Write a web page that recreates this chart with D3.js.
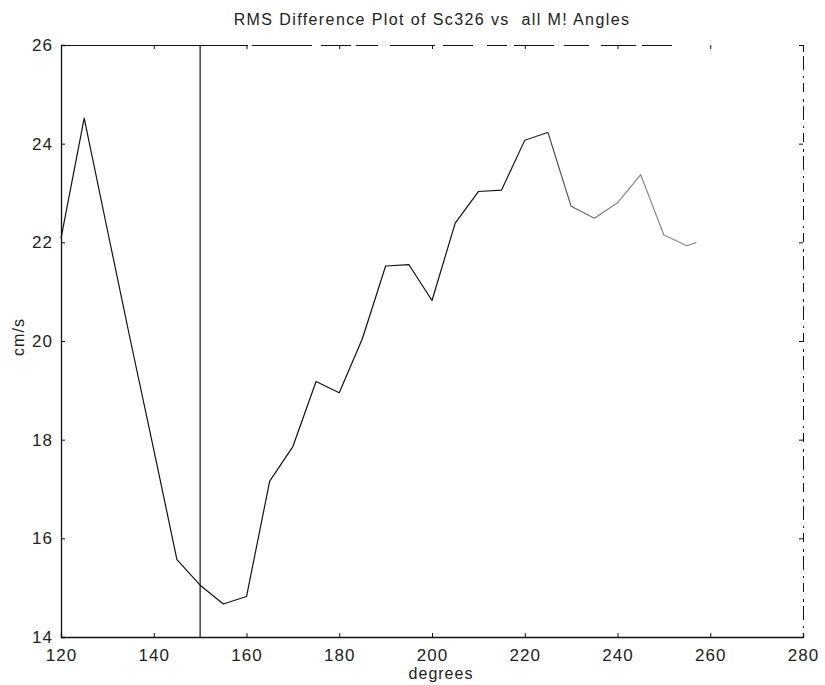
<!doctype html>
<html lang="en">
<head>
  <meta charset="utf-8" />
  <title>RMS Difference Plot</title>
  <script src="https://d3js.org/d3.v7.min.js"></script>
  <style>
    body { margin: 0; background: #fff; }
    svg { font-family: "Liberation Sans", Arial, sans-serif; }
    .tick text { font-size: 17px; letter-spacing: 1px; fill: #222; }
    .axis path, .axis line { stroke: #111; }
  </style>
</head>
<body>
<script type="text/javascript">

  // data
  var degrees = [120, 125, 130, 135, 140, 145, 150, 155, 160, 165, 170, 175, 180,
                 185, 190, 195, 200, 205, 210, 215, 220, 225, 230, 235, 240, 245,
                 250, 255, 257];
  var rms = [22.08, 24.52, 22.25, 20.0, 17.8, 15.57, 15.05, 14.67, 14.82, 17.16, 17.86,
             19.18, 18.95, 20.05, 21.52, 21.55, 20.82, 22.39, 23.03, 23.06, 24.07,
             24.23, 22.73, 22.49, 22.8, 23.37, 22.15, 21.93, 22.0];
  var xTicks = [120, 140, 160, 180, 200, 220, 240, 260, 280];
  var yTicks = [14, 16, 18, 20, 22, 24, 26];
  var markAt = 150;   // vertical marker

  var title = "RMS Difference Plot of Sc326 vs\u00a0\u00a0all M! Angles";

  var width = 825, height = 685;
  var margin = { top: 45, right: 22, bottom: 48, left: 61 };

  var x = d3.scaleLinear()
    .domain([120, 280])
    .range([margin.left, width - margin.right]);

  var y = d3.scaleLinear()
    .domain([14, 26])
    .range([height - margin.bottom, margin.top]);

  var svg = d3.select("body").append("svg")
    .attr("width", width)
    .attr("height", height);

  // the scan fades towards the right: ink goes from black to grey
  var grad = svg.append("defs").append("linearGradient")
    .attr("id", "fade")
    .attr("gradientUnits", "userSpaceOnUse")
    .attr("x1", x(215)).attr("x2", x(240))
    .attr("y1", 0).attr("y2", 0);
  grad.append("stop").attr("offset", 0).attr("stop-color", "#111");
  grad.append("stop").attr("offset", 1).attr("stop-color", "#8a8a8a");

  // top and right edges look faded / broken in the scan
  svg.append("g")
    .attr("class", "axis")
    .attr("transform", "translate(0," + margin.top + ")")
    .call(d3.axisTop(x).tickValues(xTicks).tickSize(-4).tickFormat(""))
    .call(function(g) {
      g.select(".domain").attr("stroke", "#555").attr("stroke-width", 1)
        .attr("stroke-dasharray", "190,4,60,9,30,5,22,12,45,8,30,14,20,7,40,10,25,12,35,6,30");
      g.selectAll(".tick line").attr("stroke", "#888");
    });

  svg.append("g")
    .attr("class", "axis")
    .attr("transform", "translate(" + (width - margin.right) + ",0)")
    .call(d3.axisRight(y).tickValues(yTicks).tickSize(-4).tickFormat(""))
    .call(function(g) {
      g.select(".domain").attr("stroke", "#999").attr("stroke-width", 1)
        .attr("stroke-dasharray", "9,5,2,6,14,4,3,7");
      g.selectAll(".tick line").attr("stroke", "#777");
    });

  var xAxis = d3.axisBottom(x).tickValues(xTicks).tickSize(-4).tickPadding(8);
  var yAxis = d3.axisLeft(y).tickValues(yTicks).tickSize(-4).tickPadding(8);

  svg.append("g")
    .attr("class", "x axis")
    .attr("transform", "translate(0," + (height - margin.bottom) + ")")
    .call(xAxis)
    .call(function(g) {
      g.selectAll(".tick text").attr("dy", "0.95em");
      g.select(".domain").attr("stroke-width", 1.3);
    });

  svg.append("g")
    .attr("class", "y axis")
    .attr("transform", "translate(" + margin.left + ",0)")
    .call(yAxis)
    .call(function(g) { g.select(".domain").attr("stroke-width", 1.3); });

  // vertical marker line at 150 degrees
  svg.append("line")
    .attr("x1", x(markAt)).attr("x2", x(markAt))
    .attr("y1", y(26)).attr("y2", y(14))
    .attr("stroke", "#111")
    .attr("stroke-width", 1.2);

  var line = d3.line()
    .x(function(d, i) { return x(degrees[i]); })
    .y(function(d) { return y(d); });

  svg.append("path")
    .datum(rms)
    .attr("fill", "none")
    .attr("stroke", "url(#fade)")
    .attr("stroke-width", 1.2)
    .attr("stroke-linejoin", "round")
    .attr("d", line);

  // labels
  svg.append("text")
    .attr("x", (margin.left + width - margin.right) / 2)
    .attr("y", 25)
    .attr("text-anchor", "middle")
    .style("font-size", "16px")
    .style("letter-spacing", "1.4px")
    .attr("fill", "#222")
    .text(title);

  svg.append("text")
    .attr("x", 441)
    .attr("y", 679)
    .attr("text-anchor", "middle")
    .style("font-size", "16px")
    .style("letter-spacing", "1px")
    .attr("fill", "#222")
    .text("degrees");

  svg.append("text")
    .attr("transform", "translate(24,337) rotate(-90)")
    .attr("text-anchor", "middle")
    .style("font-size", "16px")
    .style("letter-spacing", "1px")
    .attr("fill", "#222")
    .text("cm/s");

</script>
</body>
</html>
